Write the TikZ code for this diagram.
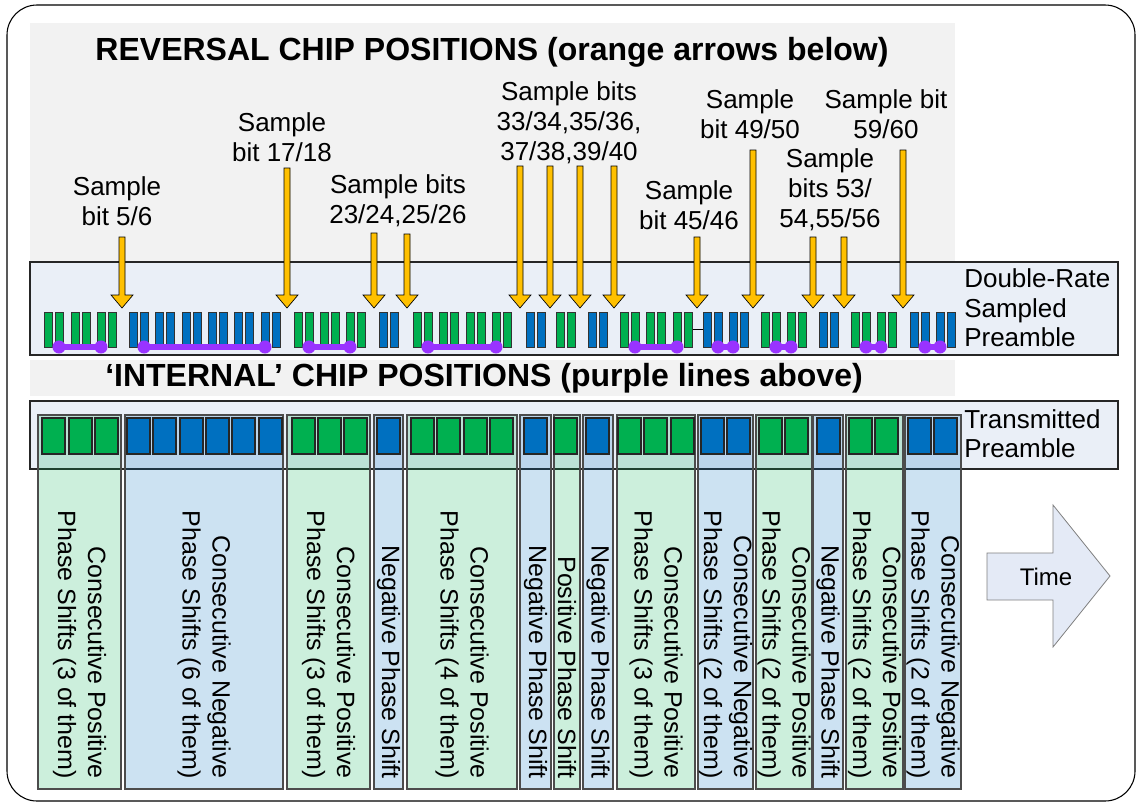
\documentclass[tikz,border=0pt]{standalone}
\usepackage{fontspec}
\setmainfont{Liberation Sans}
\definecolor{chipgreen}{HTML}{00B050}
\definecolor{chipblue}{HTML}{0070C0}
\definecolor{arroworange}{HTML}{FFC000}
\definecolor{linepurple}{HTML}{9933FF}
\definecolor{panelgray}{HTML}{F2F2F2}
\definecolor{boxfill}{HTML}{EAEFF7}
\definecolor{timefill}{HTML}{E4EAF6}
\tikzset{
  preamblebox/.style={draw=black!85, line width=0.9pt, fill=boxfill},
  chipbox/.style={draw=black!85, line width=0.8pt},
  barbox/.style={draw=black!80, line width=0.6pt},
  groupbox/.style={draw=black!70, line width=0.9pt, fill opacity=0.2},
  revarrow/.style={draw=black, line width=0.5pt, fill=arroworange},
  purpleline/.style={linepurple, line width=3.8pt},
  titletext/.style={font=\fontsize{24}{28}\selectfont\bfseries},
  samplelabel/.style={align=center, font=\fontsize{19.5}{22.5}\selectfont},
  sidelabel/.style={anchor=west, align=left, inner sep=0pt, font=\fontsize{19.5}{22}\selectfont},
  vlabel/.style={rotate=-90, anchor=east, align=right, inner sep=0pt, font=\fontsize{18.75}{22.5}\selectfont},
}
\begin{document}
\begin{tikzpicture}[x=0.75pt, y=-0.75pt]
\useasboundingbox (0,0) rectangle (1138,804);
\draw[line width=0.8pt, rounded corners=22.5pt] (7,5) rectangle (1135,801);
% grey panels behind the titles
\fill[panelgray] (30,23) rectangle (955,262);
\fill[panelgray] (30,360) rectangle (955,396);
\node[titletext] (revtitle) at (492,52) {REVERSAL CHIP POSITIONS (orange arrows below)};
\node[titletext] (inttitle) at (484,378) {‘INTERNAL’ CHIP POSITIONS (purple lines above)};
% sample bit labels
\node[samplelabel] (lab5)  at (117,201) {Sample\\bit 5/6};
\node[samplelabel] (lab17) at (282,137) {Sample\\bit 17/18};
\node[samplelabel] (lab23) at (398,201) {Sample bits\\23/24,25/26};
\node[samplelabel] (lab33) at (569,123) {Sample bits\\33/34,35/36,\\37/38,39/40};
\node[samplelabel] (lab45) at (689,205) {Sample\\bit 45/46};
\node[samplelabel] (lab49) at (750,114) {Sample\\bit 49/50};
\node[samplelabel] (lab53) at (830,190) {Sample\\bits 53/\\54,55/56};
\node[samplelabel] (lab59) at (886,114) {Sample bit\\59/60};
% double-rate sampled preamble
\draw[preamblebox] (30,262) rectangle (1118,355);
\node[sidelabel] (drlabel) at (964,308) {Double-Rate\\Sampled\\Preamble};
\foreach \ax/\at in {122/237, 287/168, 374/233, 407/234, 520/166, 550/166, 580/166,
                     614/166, 697/237, 753/150, 813/237, 844/237, 903/150}
  \draw[revarrow] (\ax-3,\at) -- (\ax+3,\at) -- (\ax+3,295) -- (\ax+11,295)
                  -- (\ax,308) -- (\ax-11,295) -- (\ax-3,295) -- cycle;
\draw[line width=0.6pt] (692,329) -- (703,329);
% transmitted preamble and phase shift groups
\draw[preamblebox] (30,401) rectangle (1118,469);
\node[sidelabel] (txlabel) at (964,434) {Transmitted\\Preamble};
\foreach \ga/\gb/\gc/\gt in {
    38/121/chipgreen/{Consecutive Positive\\Phase Shifts (3 of them)},
    125/283/chipblue/{Consecutive Negative\\Phase Shifts (6 of them)},
    287/370/chipgreen/{Consecutive Positive\\Phase Shifts (3 of them)},
    374/403/chipblue/{Negative Phase Shift},
    407/517/chipgreen/{Consecutive Positive\\Phase Shifts (4 of them)},
    520/551/chipblue/{Negative Phase Shift},
    554/580/chipgreen/{Positive Phase Shift},
    583/613/chipblue/{Negative Phase Shift},
    617/695/chipgreen/{Consecutive Positive\\Phase Shifts (3 of them)},
    698/753/chipblue/{Consecutive Negative\\Phase Shifts (2 of them)},
    756/812/chipgreen/{Consecutive Positive\\Phase Shifts (2 of them)},
    813/843/chipblue/{Negative Phase Shift},
    846/903/chipgreen/{Consecutive Positive\\Phase Shifts (2 of them)},
    905/961/chipblue/{Consecutive Negative\\Phase Shifts (2 of them)}}{
  \draw[groupbox, fill=\gc] (\ga,415) rectangle (\gb,789);
  \node[vlabel] (grp\ga) at ({(\ga+\gb)/2},779) {\gt};
}
% chips: one square per chip, two sample bars per chip
\foreach \cx/\cc in {42/chipgreen, 69/chipgreen, 95/chipgreen,
    127/chipblue, 153/chipblue, 180/chipblue, 206/chipblue, 232/chipblue, 259/chipblue,
    292/chipgreen, 318/chipgreen, 344/chipgreen, 377/chipblue,
    411/chipgreen, 437/chipgreen, 464/chipgreen, 490/chipgreen, 524/chipblue,
    554/chipgreen, 586/chipblue, 618/chipgreen, 644/chipgreen, 671/chipgreen,
    701/chipblue, 727/chipblue, 759/chipgreen, 785/chipgreen, 817/chipblue,
    849/chipgreen, 875/chipgreen, 908/chipblue, 934/chipblue}{
  \draw[chipbox, fill=\cc] (\cx,418) rectangle ++(23,36);
  \draw[barbox, fill=\cc] (\cx+2,312) rectangle ++(8,35);
  \draw[barbox, fill=\cc] (\cx+13,312) rectangle ++(8,35);
}
% internal chip positions
\foreach \pa/\pb in {59/101, 144/265, 309/350, 428/496, 635/677, 718/733, 776/791, 866/881, 925/940}{
  \draw[purpleline] (\pa,347) -- (\pb,347);
  \fill[linepurple] (\pa,347) circle (4.9pt) (\pb,347) circle (4.9pt);
}
% time arrow
\draw[draw=black!50, line width=0.6pt, fill=timefill] (987,553) -- (1053,553) -- (1053,505)
  -- (1110,576) -- (1053,647) -- (1053,600) -- (987,600) -- cycle;
\node[font=\fontsize{18}{22}\selectfont] (time) at (1046,577) {Time};
\end{tikzpicture}
\end{document}
